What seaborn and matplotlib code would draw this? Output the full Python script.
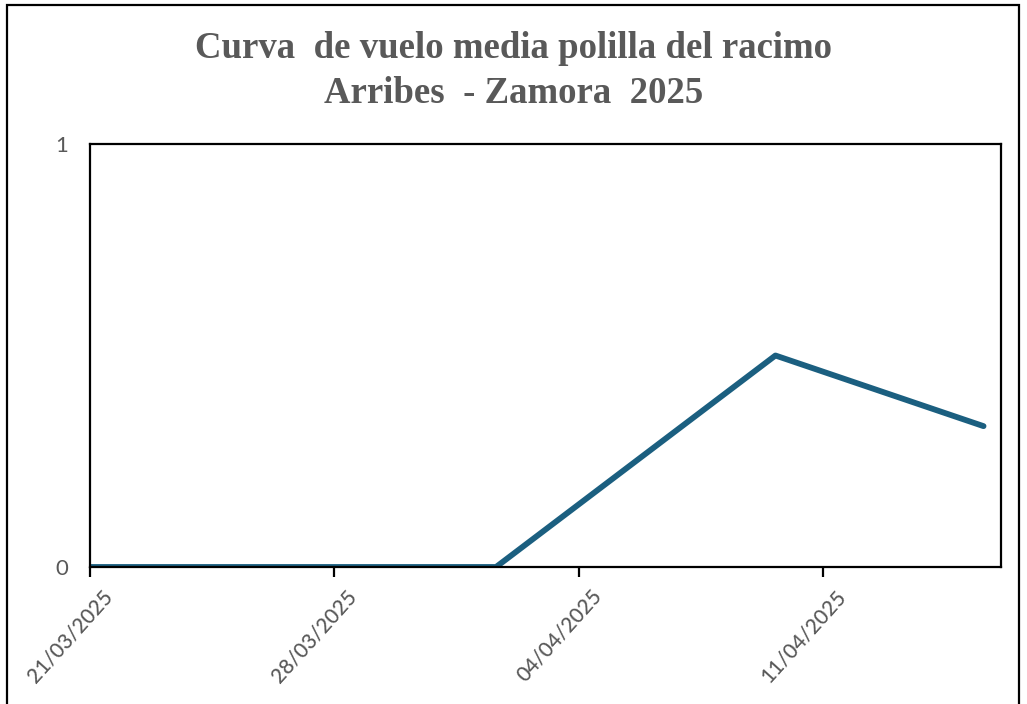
import pandas as pd
import numpy as np
import matplotlib.pyplot as plt
import matplotlib.dates as mdates
import matplotlib.transforms as mtransforms
from matplotlib.patches import Rectangle
import seaborn as sns

# datos (capturas por fecha)
fechas = ["2025-03-21 00:00", "2025-03-28 00:00", "2025-04-01 15:00",
          "2025-04-09 15:00", "2025-04-15 14:00"]
capturas = [0, 0, 0, 0.5, 0.333]
ticks_x = ["2025-03-21", "2025-03-28", "2025-04-04", "2025-04-11"]
ticks_y = [0, 1]
titulo = "Curva  de vuelo media polilla del racimo\nArribes  - Zamora  2025"

df = pd.DataFrame({"fecha": pd.to_datetime(fechas), "capturas": capturas})

sns.set_style("white")
gris = "#595959"

fig = plt.figure(figsize=(10.27, 7.04), dpi=100)
ax = fig.add_axes([90 / 1027, 1 - 567 / 704, 911 / 1027, 423 / 704])

sns.lineplot(data=df, x="fecha", y="capturas", ax=ax, color="#1b5f80",
             linewidth=4.2, solid_capstyle="round", solid_joinstyle="round")

ax.set_xlim(pd.Timestamp("2025-03-21"), pd.Timestamp("2025-04-16 02:00"))
ax.set_ylim(0, 1)
ax.set_xticks(pd.to_datetime(ticks_x))
ax.xaxis.set_major_formatter(mdates.DateFormatter("%d/%m/%Y"))
ax.set_yticks(ticks_y)
ax.set_xlabel("")
ax.set_ylabel("")

for s in ax.spines.values():
    s.set_color("black")
    s.set_linewidth(1.6)
    s.set_visible(True)

ax.tick_params(axis="x", direction="out", length=7, width=1.6, color="black",
               bottom=True, labelsize=15, labelcolor=gris, pad=2)
ax.tick_params(axis="y", length=0, labelsize=16, labelcolor=gris, pad=16)

desplaza = mtransforms.ScaledTranslation(0.19, -0.13, fig.dpi_scale_trans)
for lab in ax.get_xticklabels():
    lab.set_rotation(48)
    lab.set_ha("right")
    lab.set_va("center")
    lab.set_rotation_mode("anchor")
    lab.set_fontfamily("Lato")
    lab.set_fontweight("medium")
    lab.set_transform(lab.get_transform() + desplaza)
for lab in ax.get_yticklabels():
    lab.set_fontfamily("Lato")

fig.text(0.5, 1 - 71 / 704, titulo, ha="center", va="center", fontsize=26.5,
         fontweight="bold", color=gris, family="Liberation Serif",
         linespacing=1.4)

# marco exterior
fig.patches.append(Rectangle((7 / 1027, -0.01), 1012 / 1027, 1.01 - 5 / 704,
                             transform=fig.transFigure, fill=False,
                             edgecolor="black", linewidth=1.6))

fig.savefig("out.png", dpi=100)
